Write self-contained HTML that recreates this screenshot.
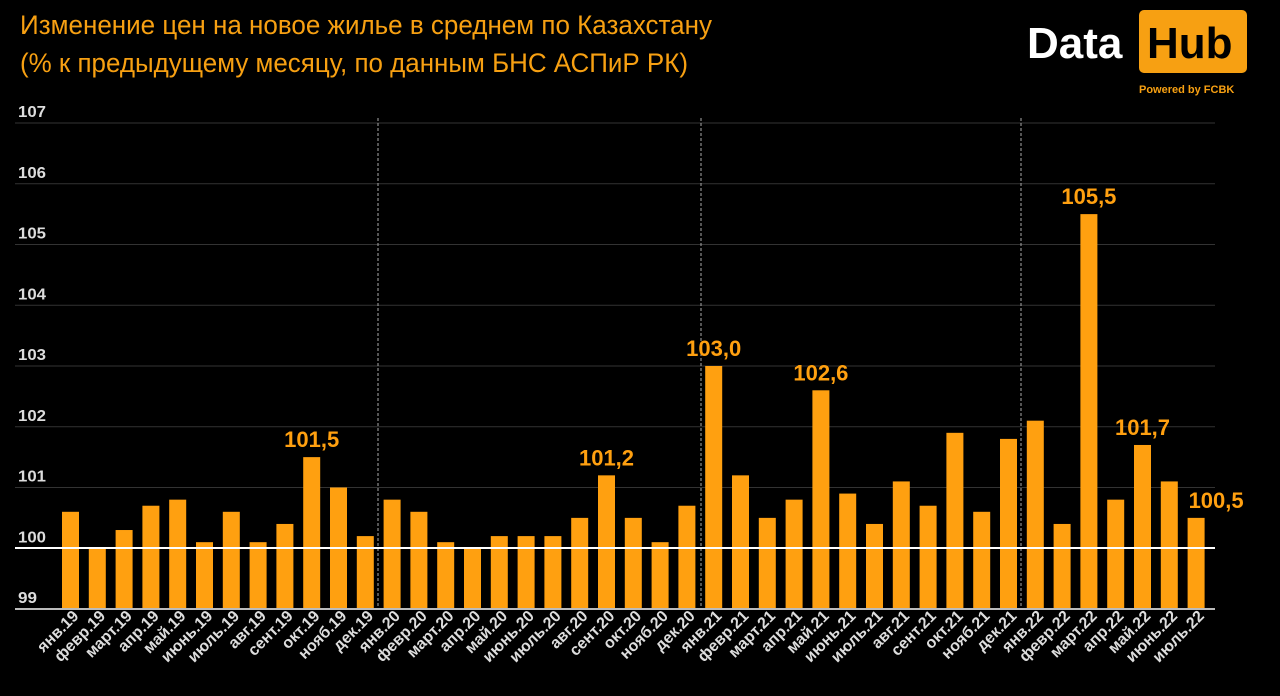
<!DOCTYPE html>
<html><head><meta charset="utf-8"><style>
body{margin:0;background:#000;width:1280px;height:691px;overflow:hidden}
</style></head><body>
<svg width="1280" height="691" xmlns="http://www.w3.org/2000/svg" font-family="'Liberation Sans', sans-serif">
<rect width="1280" height="691" fill="#000"/>
<text x="20" y="34" fill="#f7a012" font-size="27" textLength="692" lengthAdjust="spacingAndGlyphs">Изменение цен на новое жилье в среднем по Казахстану</text>
<text x="20" y="72" fill="#f7a012" font-size="27" textLength="668" lengthAdjust="spacingAndGlyphs">(% к предыдущему месяцу, по данным БНС АСПиР РК)</text>
<text x="1027" y="58" fill="#fff" font-size="44" font-weight="bold">Data</text>
<rect x="1139" y="10" width="108" height="63" rx="5" fill="#f7a012"/>
<text x="1147" y="58" fill="#000" font-size="44" font-weight="bold">Hub</text>
<text x="1139" y="93" fill="#f7a012" font-size="11" font-weight="bold">Powered by FCBK</text>
<g id="grid"></g>
<g id="bars"></g>
</svg>
<script>
const vals=[100.6,100.0,100.3,100.7,100.8,100.1,100.6,100.1,100.4,101.5,101.0,100.2,100.8,100.6,100.1,100.0,100.2,100.2,100.2,100.5,101.2,100.5,100.1,100.7,103.0,101.2,100.5,100.8,102.6,100.9,100.4,101.1,100.7,101.9,100.6,101.8,102.1,100.4,105.5,100.8,101.7,101.1,100.5];
const m=['янв.','февр.','март.','апр.','май.','июнь.','июль.','авг.','сент.','окт.','нояб.','дек.'];
const ann={9:'101,5',20:'101,2',24:'103,0',28:'102,6',38:'105,5',40:'101,7',42:'100,5'};
const Y=v=>609-(v-99)*60.75;
let s='';
for(let v=99;v<=107;v++){const y=Y(v);
 if(v!==100&&v!==99) s+=`<line x1="15" x2="1215" y1="${y}" y2="${y}" stroke="#333" stroke-width="1"/>`;
 s+=`<text x="18" y="${y-6}" fill="#ddd" font-size="16" font-weight="bold" textLength="${v<100?19:28}" lengthAdjust="spacingAndGlyphs">${v}</text>`;}
[378,701,1021].forEach(x=>s+=`<line x1="${x}" x2="${x}" y1="118" y2="609" stroke="#aaa" stroke-width="1" stroke-dasharray="3,2"/>`);
let b='';
vals.forEach((v,i)=>{const c=70.5+26.8*i;const y=Y(v);
 b+=`<rect x="${c-8.5}" y="${y}" width="17" height="${609-y}" fill="#ffa010"/>`;
 const lab=m[i%12]+(19+Math.floor(i/12));
 b+=`<text transform="translate(${c+9},617) rotate(-45)" text-anchor="end" fill="#ddd" font-size="16" font-weight="bold">${lab}</text>`;
 if(ann[i]) b+=`<text x="${i==42?c+20:c}" y="${y-10}" text-anchor="middle" fill="#ffa010" font-size="22" font-weight="bold">${ann[i]}</text>`;
});
b+=`<line x1="15" x2="1215" y1="548" y2="548" stroke="#fff" stroke-width="2"/>`;
b+=`<line x1="15" x2="1215" y1="609" y2="609" stroke="#bbb" stroke-width="2"/>`;
document.getElementById('grid').innerHTML=s;
document.getElementById('bars').innerHTML=b;
</script>
</body></html>
